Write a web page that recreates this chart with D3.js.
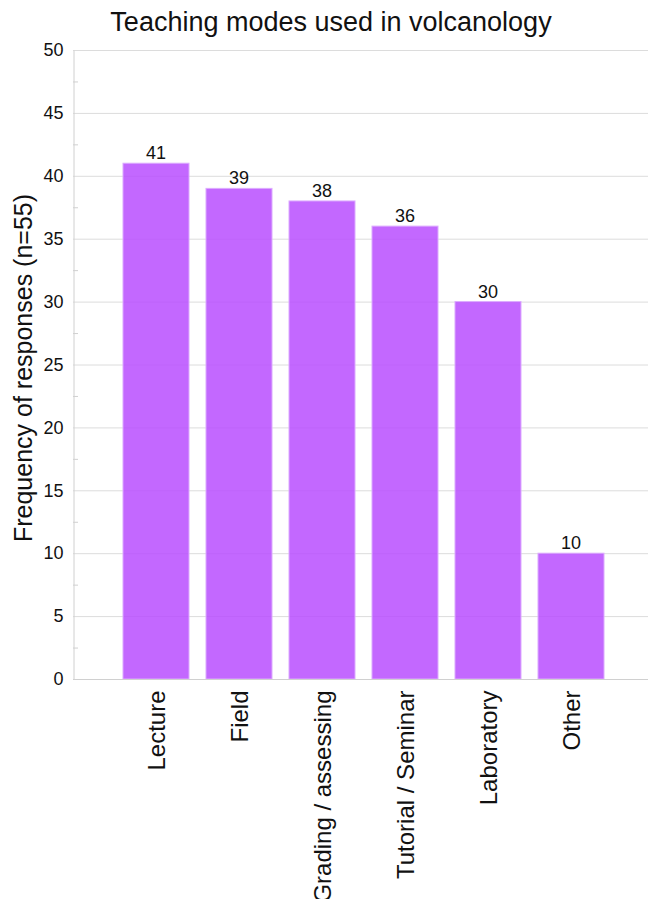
<!doctype html>
<html lang="en">
<head>
<meta charset="utf-8" />
<title>Teaching modes used in volcanology</title>
<script src="https://cdn.jsdelivr.net/npm/d3@7"></script>
<style>
  body { margin: 0; background: #fff; }
  text { font-family: "Liberation Sans", Arial, sans-serif; fill: #111; }
</style>
</head>
<body>
<script>
// chart data
var categories = ["Lecture", "Field", "Grading / assessing", "Tutorial / Seminar", "Laboratory", "Other"];
var counts = [41, 39, 38, 36, 30, 10];
var yTicks = [0, 5, 10, 15, 20, 25, 30, 35, 40, 45, 50];
var yMinorTicks = [2.5, 7.5, 12.5, 17.5, 22.5, 27.5, 32.5, 37.5, 42.5, 47.5];

var w = 648, h = 899;
var plotLeft = 73, plotTop = 50, plotBottom = 679, plotRight = 654;
var barWidth = 66;

var svg = d3.select("body").append("svg")
  .attr("width", w)
  .attr("height", h);

var x = d3.scalePoint().domain(categories).range([plotLeft, plotRight]).padding(1);
var y = d3.scaleLinear().domain([0, 50]).range([plotBottom, plotTop]);

// gridlines
svg.append("g")
  .selectAll("line")
  .data(yTicks)
  .enter().append("line")
  .attr("x1", plotLeft).attr("x2", w)
  .attr("y1", function(d) { return y(d) + 0.5; })
  .attr("y2", function(d) { return y(d) + 0.5; })
  .attr("stroke", "#dcdcdc")
  .attr("stroke-width", 1);

// bars (slightly see-through so the grid shows)
svg.append("g")
  .selectAll("rect")
  .data(categories)
  .enter().append("rect")
  .attr("x", function(d) { return x(d) - barWidth / 2; })
  .attr("y", function(d, i) { return y(counts[i]); })
  .attr("width", barWidth)
  .attr("height", function(d, i) { return y(0) - y(counts[i]); })
  .attr("fill", "#b94dff")
  .attr("fill-opacity", 0.85)
  .attr("stroke", "#dcaaff")
  .attr("stroke-width", 1);

// value labels
svg.append("g")
  .selectAll("text")
  .data(categories)
  .enter().append("text")
  .attr("x", function(d) { return x(d); })
  .attr("y", function(d, i) { return y(counts[i]) - 4; })
  .attr("text-anchor", "middle")
  .attr("font-size", "18px")
  .text(function(d, i) { return counts[i]; });

// y axis
var yAxis = d3.axisLeft(y).tickValues(yTicks).tickSize(0).tickPadding(10);
var gy = svg.append("g").attr("transform", "translate(" + (plotLeft + 0.5) + ",0)").call(yAxis);
gy.select(".domain").attr("stroke", "#d0d0d0");
gy.selectAll(".tick text")
  .attr("font-size", "18px")
  .attr("font-family", "Liberation Sans, Arial, sans-serif")
  .attr("fill", "#111");

// minor ticks
svg.append("g")
  .selectAll("line")
  .data(yMinorTicks)
  .enter().append("line")
  .attr("x1", plotLeft).attr("x2", plotLeft + 5)
  .attr("y1", function(d) { return y(d) + 0.5; })
  .attr("y2", function(d) { return y(d) + 0.5; })
  .attr("stroke", "#d0d0d0");

// x axis, labels turned upright
var xAxis = d3.axisBottom(x).tickSize(0).tickPadding(0);
var gx = svg.append("g").attr("transform", "translate(0," + (plotBottom + 0.5) + ")").call(xAxis);
gx.select(".domain").attr("stroke", "#d0d0d0").attr("d", "M" + plotLeft + ",0H" + w);
gx.selectAll(".tick text")
  .attr("font-size", "24px")
  .attr("font-family", "Liberation Sans, Arial, sans-serif")
  .attr("fill", "#111")
  .attr("text-anchor", "end")
  .attr("dy", "0.35em")
  .attr("transform", "translate(0,11) rotate(-90)")
  .attr("x", 0).attr("y", 0);

// title
svg.append("text")
  .attr("x", 331)
  .attr("y", 31)
  .attr("text-anchor", "middle")
  .attr("font-size", "27px")
  .text("Teaching modes used in volcanology");

// y axis title
svg.append("text")
  .attr("transform", "translate(32,368) rotate(-90)")
  .attr("text-anchor", "middle")
  .attr("font-size", "25px")
  .text("Frequency of responses (n=55)");
</script>
</body>
</html>
